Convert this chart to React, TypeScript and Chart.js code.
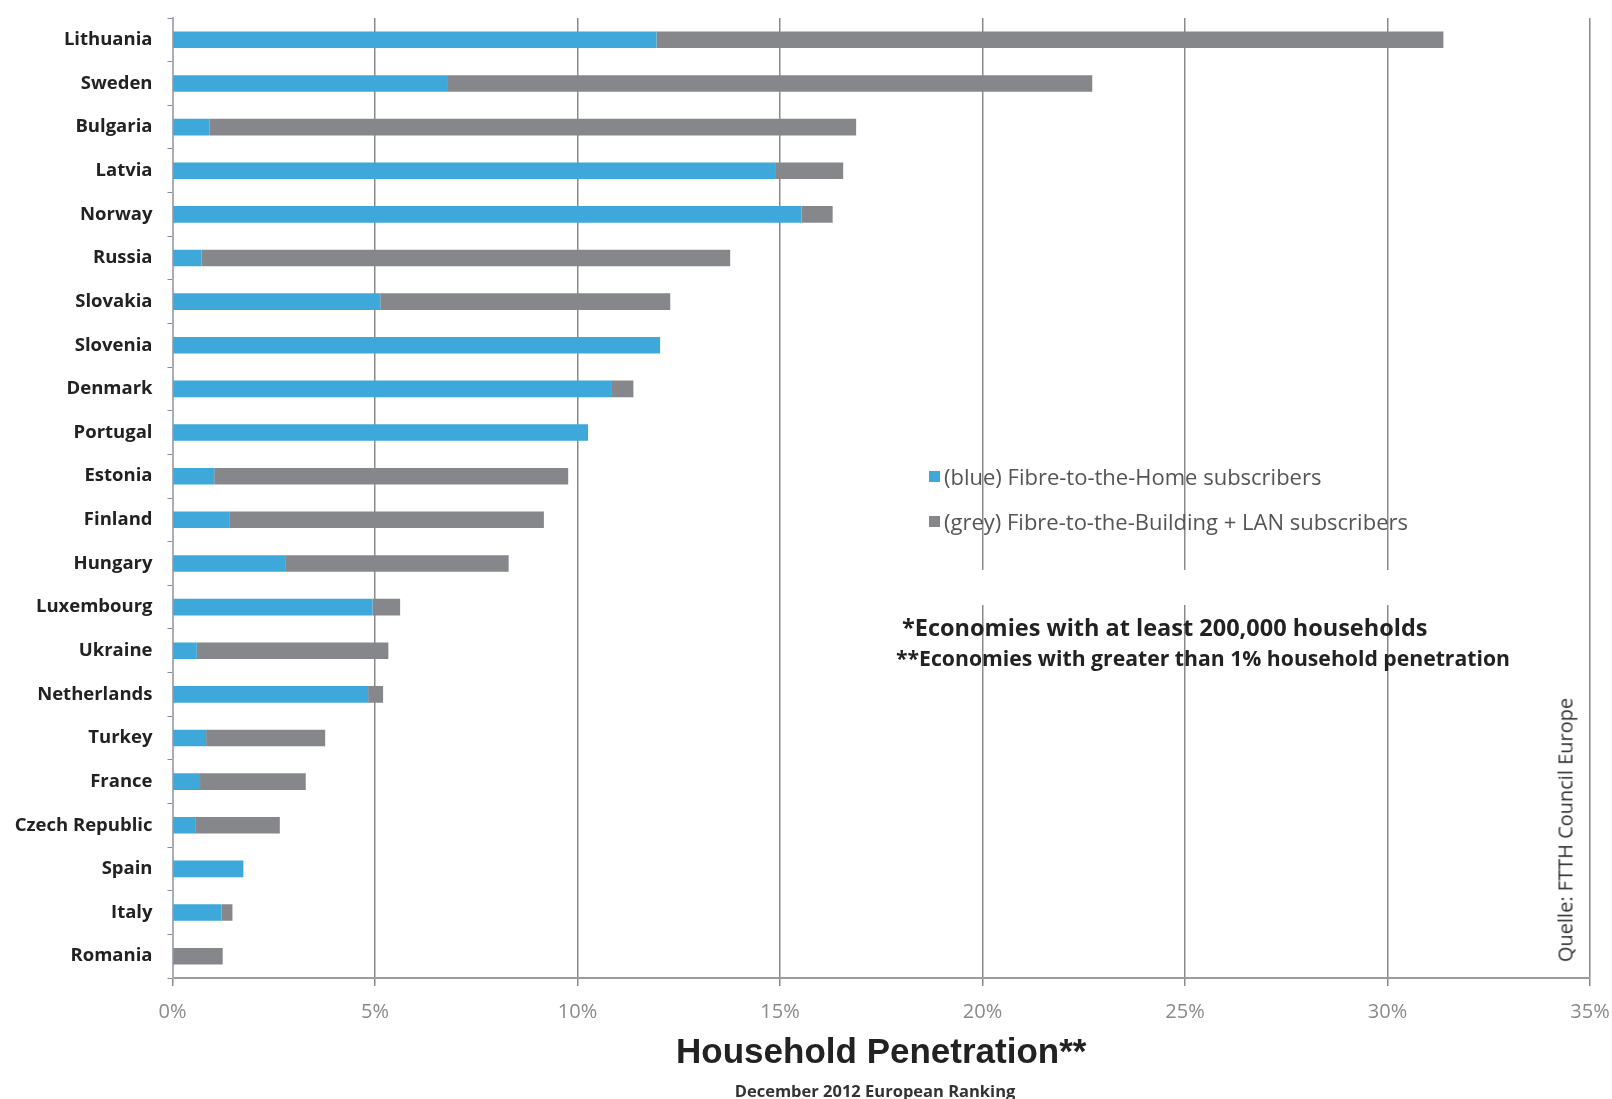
import React, { useEffect, useRef } from "react";
import { Chart, registerables } from "chart.js";

Chart.register(...registerables);

const countries = [
  "Lithuania", "Sweden", "Bulgaria", "Latvia", "Norway", "Russia", "Slovakia",
  "Slovenia", "Denmark", "Portugal", "Estonia", "Finland", "Hungary", "Luxembourg",
  "Ukraine", "Netherlands", "Turkey", "France", "Czech Republic", "Spain", "Italy", "Romania",
];

// Fibre-to-the-Home share (%)
const ftthValues = [
  11.95, 6.78, 0.91, 14.9, 15.53, 0.72, 5.13, 12.04, 10.83, 10.26, 1.03, 1.4, 2.8,
  4.94, 0.6, 4.83, 0.83, 0.68, 0.56, 1.75, 1.21, 0,
];

// Fibre-to-the-Building + LAN share (%)
const fttbValues = [
  19.43, 15.93, 15.97, 1.66, 0.77, 13.05, 7.16, 0, 0.55, 0, 8.74, 7.77, 5.5,
  0.68, 4.73, 0.37, 2.94, 2.61, 2.09, 0, 0.27, 1.24,
];

const xTickLabels = ["0%", "5%", "10%", "15%", "20%", "25%", "30%", "35%"];

const seriesNames = [
  "(blue) Fibre-to-the-Home subscribers",
  "(grey) Fibre-to-the-Building + LAN subscribers",
];
const seriesColors = ["#3ea8da", "#86878b"];

const notes = [
  "*Economies with at least 200,000 households",
  "**Economies with greater than 1% household penetration",
];

const W = 1612;
const H = 1099;

const gapPlugin = {
  id: "legendGap",
  beforeDatasetsDraw(chart: any) {
    const { ctx, scales } = chart;
    const x = scales.x;
    ctx.save();
    ctx.fillStyle = "#ffffff";
    const x0 = x.getPixelForValue(18.5);
    const x1 = x.getPixelForValue(32.5);
    ctx.fillRect(x0, 570, x1 - x0, 35);
    ctx.restore();
  },
};

export default function App() {
  const canvasRef = useRef<HTMLCanvasElement | null>(null);

  useEffect(() => {
    document.body.style.margin = "0";
    const canvas = canvasRef.current;
    if (!canvas) return;
    const chart = new Chart(canvas, {
      type: "bar",
      data: {
        labels: countries,
        datasets: [
          {
            label: seriesNames[0],
            data: ftthValues,
            backgroundColor: seriesColors[0],
            barPercentage: 0.38,
            categoryPercentage: 1,
          },
          {
            label: seriesNames[1],
            data: fttbValues,
            backgroundColor: seriesColors[1],
            barPercentage: 0.38,
            categoryPercentage: 1,
          },
        ],
      },
      options: {
        indexAxis: "y",
        responsive: false,
        animation: false,
        devicePixelRatio: 1,
        layout: { padding: { left: 0, right: 22, top: 18, bottom: 0 } },
        plugins: {
          legend: { display: false },
          tooltip: { enabled: false },
        },
        scales: {
          x: {
            stacked: true,
            min: 0,
            max: 35,
            ticks: {
              stepSize: 5,
              color: "#8a8a8a",
              font: { family: "Open Sans", size: 20 },
              padding: 14,
              callback: (_v: any, i: number) => xTickLabels[i],
            },
            grid: { color: "#8a8a8a", lineWidth: 1.5, tickLength: 8 },
            border: { color: "#9c9c9c", width: 2 },
            title: {
              display: true,
              text: "Household Penetration**",
              color: "#222222",
              font: { family: "Liberation Sans", weight: "bold", size: 35 },
              padding: { top: 0, bottom: 25 },
            },
            afterFit: (s: any) => {
              s.height = 1099 - 978;
              s.paddingLeft = 0;
              s.paddingRight = 0;
            },
          },
          y: {
            stacked: true,
            ticks: {
              color: "#222222",
              font: { family: "Open Sans", weight: "bold", size: 18.5 },
              padding: 15,
            },
            grid: { drawOnChartArea: false, tickLength: 5, color: "#8e8e8e", offset: true },
            border: { color: "#a9adb5", width: 2 },
            afterFit: (s: any) => {
              s.width = 172.5;
              s.paddingTop = 0;
              s.paddingBottom = 0;
            },
          },
        },
      },
      plugins: [gapPlugin],
    } as any);
    return () => chart.destroy();
  }, []);

  return (
    <div style={{ position: "relative", width: W, height: H, background: "#fff", overflow: "hidden" }}>
      <canvas ref={canvasRef} width={W} height={H} style={{ width: W, height: H, display: "block" }} />
      {seriesNames.map((name, i) => (
        <div
          key={name}
          style={{
            position: "absolute",
            left: 929,
            top: 476 + i * 45 - 15,
            height: 30,
            display: "flex",
            alignItems: "center",
            whiteSpace: "nowrap",
            fontFamily: "Open Sans",
            fontSize: 22,
            color: "#555555",
          }}
        >
          <span style={{ display: "inline-block", width: 11, height: 11, background: seriesColors[i], marginRight: 4 }} />
          <span>{name}</span>
        </div>
      ))}
      <div
        style={{
          position: "absolute",
          left: 902,
          top: 627 - 16,
          lineHeight: "32px",
          whiteSpace: "nowrap",
          fontFamily: "Open Sans",
          fontWeight: "bold",
          fontSize: 23.5,
          color: "#222222",
        }}
      >
        {notes[0]}
      </div>
      <div
        style={{
          position: "absolute",
          left: 896,
          top: 658 - 14,
          lineHeight: "28px",
          whiteSpace: "nowrap",
          fontFamily: "Open Sans",
          fontWeight: "bold",
          fontSize: 21.2,
          color: "#222222",
        }}
      >
        {notes[1]}
      </div>
      <div
        style={{
          position: "absolute",
          left: 1565,
          top: 830,
          transform: "translate(-50%, -50%) rotate(-90deg)",
          whiteSpace: "nowrap",
          fontFamily: "Open Sans",
          fontSize: 20,
          color: "#333333",
        }}
      >
        Quelle: FTTH Council Europe
      </div>
      <div
        style={{
          position: "absolute",
          left: 875,
          top: 1090,
          transform: "translate(-50%, -50%)",
          whiteSpace: "nowrap",
          fontFamily: "Open Sans",
          fontWeight: "bold",
          fontSize: 16.5,
          color: "#333333",
        }}
      >
        December 2012 European Ranking
      </div>
    </div>
  );
}
